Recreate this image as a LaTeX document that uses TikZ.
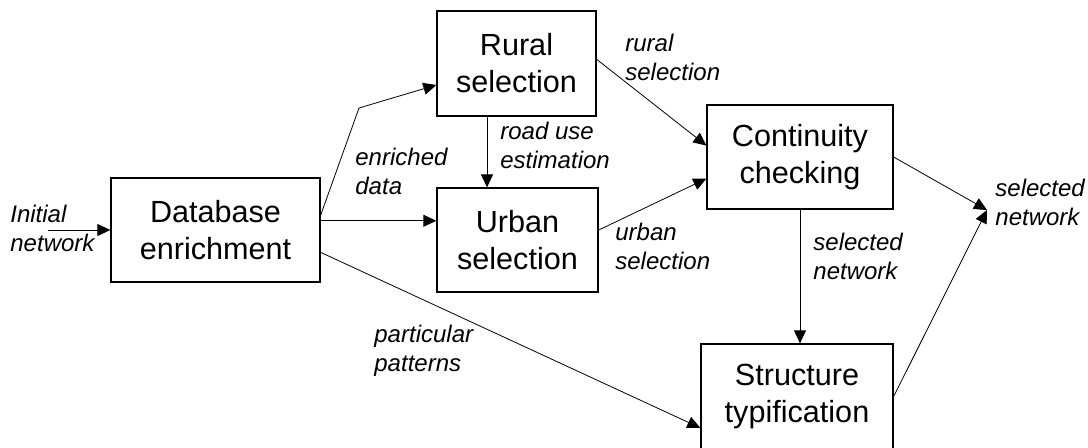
\documentclass[tikz,border=0pt]{standalone}
\usepackage{fontspec}
\setmainfont{Liberation Sans}
\usetikzlibrary{arrows.meta,calc}

\begin{document}
\begin{tikzpicture}[x=.5pt,y=-.5pt,>={Triangle[length=6.5pt,width=6pt]},
    stage/.style={draw,line width=.65pt,inner sep=0pt,align=center,
      font=\fontsize{15.3}{18.5}\selectfont},
    lbl/.style={inner sep=0pt,anchor=north west,align=left,
      font=\itshape\fontsize{12}{14.2}\selectfont}]
    \useasboundingbox (0,0) rectangle (1088,447);

    \node[stage,minimum width=104.5pt,minimum height=52pt] (db) at (215.5,230) {Database\\enrichment};
    \node[stage,minimum width=79.5pt,minimum height=52.5pt] (rural) at (516.5,63.5) {Rural\\selection};
    \node[stage,minimum width=80.5pt,minimum height=52pt] (urban) at (517.5,240) {Urban\\selection};
    \node[stage,minimum width=93pt,minimum height=52pt] (cont) at (800,157) {Continuity\\checking};
    \node[stage,minimum width=96pt,minimum height=52.5pt] (struct) at (797,396.5) {Structure\\typification};

    \coordinate (init) at (48,230);
    \coordinate (bend) at (359,108);
    \coordinate (outin) at (987,210);

    \draw[->] (init) -- (db.west);
    \draw[->] (db.8) -- (bend) -- (rural.195);
    \draw[->] (db.5) -- (db.5 -| urban.west);
    \draw[->] (rural.241) -- (rural.241 |- urban.north);
    \draw[->] (rural.3) -- (cont.173);
    \draw[->] (urban.7) -- (cont.193);
    \draw[->] (cont.south) -- (cont.south |- struct.north);
    \draw[->] (db.-12) -- (struct.198);
    \draw[->] (cont.east) -- (outin);
    \draw[->] (struct.east) -- (outin);

    \node[lbl] (lin) at (10,205) {Initial\\network};
    \node[lbl] (lenr) at (355,148) {enriched\\data};
    \node[lbl] (lroad) at (500,122) {road use\\estimation};
    \node[lbl] (lrur) at (625,34) {rural\\selection};
    \node[lbl] (lurb) at (615,223) {urban\\selection};
    \node[lbl] (lsel) at (813,233) {selected\\network};
    \node[lbl] (out) at (995,179) {selected\\network};
    \node[lbl] (lpat) at (374,325) {particular\\patterns};
\end{tikzpicture}
\end{document}
